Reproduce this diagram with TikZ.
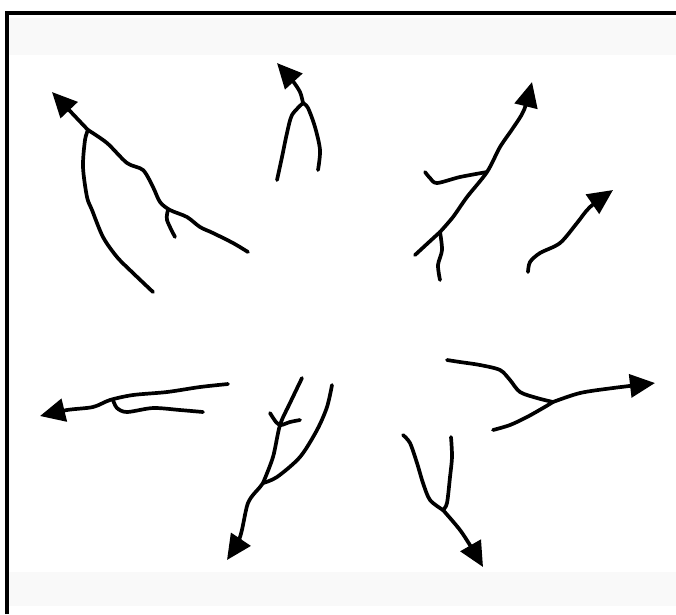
\documentclass[tikz,border=0pt]{standalone}
\usepackage{tikz}
\usetikzlibrary{arrows.meta}
\usepackage{xcolor}
\definecolor{scanband}{RGB}{249,249,249}
\tikzset{
  stroke/.style={line width=1.05pt, line cap=round, line join=round},
  arrowstroke/.style={stroke, -{Triangle[length=0.25cm,width=0.23cm]}},
}

\begin{document}
\begin{tikzpicture}[x=0.01cm, y=-0.01cm]
  \useasboundingbox (0,0) rectangle (676,614);

  % Scan bands and frame
  \fill[scanband] (9,18) rectangle (676,55);
  \fill[scanband] (9,572) rectangle (676,606);
  \draw[line width=1.2pt] (7,614) -- (7,13) -- (676,13);

  % Top left
  \draw[arrowstroke] plot[smooth] coordinates {(88,130) (70,111) (52,92)};
  \draw[stroke] plot[smooth] coordinates {(88,130) (85,140) (83,167) (87,197) (92,210) (103,237) (117,257) (133,273) (153,292)};
  \draw[stroke] plot[smooth] coordinates {(88,130) (107,143) (127,163) (143,170) (153,187) (160,202) (170,210) (187,217) (200,227) (213,233) (233,243) (248,252)};
  \draw[stroke] plot[smooth] coordinates {(168,210) (167,220) (175,237)};

  % Top
  \draw[arrowstroke] plot[smooth] coordinates {(303,103) (300,92) (292,80) (277,63)};
  \draw[stroke] plot[smooth] coordinates {(303,103) (292,115) (287,133) (282,157) (277,180)};
  \draw[stroke] plot[smooth] coordinates {(303,103) (308,108) (315,127) (320,150) (318,170)};

  % Top right
  \draw[arrowstroke] plot[smooth] coordinates {(440,232) (453,217) (467,197) (487,172) (500,147) (513,128) (524,110) (532,82)};
  \draw[stroke] plot[smooth] coordinates {(487,172) (460,177) (437,183) (430,178) (425,172)};
  \draw[stroke] plot[smooth] coordinates {(440,232) (428,243) (415,255)};
  \draw[stroke] plot[smooth] coordinates {(440,232) (442,250) (438,265) (440,280)};

  % Right, small
  \draw[arrowstroke] plot[smooth] coordinates {(528,272) (530,262) (540,253) (560,243) (577,223) (590,207) (613,190)};

  % Left
  \draw[arrowstroke] plot[smooth] coordinates {(228,384) (200,387) (167,392) (133,395) (110,400) (93,407) (67,410) (40,416)};
  \draw[stroke] plot[smooth] coordinates {(113,400) (117,408) (127,412) (153,408) (180,410) (203,412)};

  % Bottom left
  \draw[arrowstroke] plot[smooth] coordinates {(263,483) (260,487) (248,503) (240,537) (227,560)};
  \draw[stroke] plot[smooth] coordinates {(263,483) (273,457) (280,425) (290,403) (302,378)};
  \draw[stroke] plot[smooth] coordinates {(270,413) (276,422) (281,425) (290,422) (300,420)};
  \draw[stroke] plot[smooth] coordinates {(263,483) (277,477) (300,457) (317,430) (327,407) (332,385)};

  % Right
  \draw[arrowstroke] plot[smooth] coordinates {(553,402) (580,393) (613,388) (655,383)};
  \draw[stroke] plot[smooth] coordinates {(553,402) (537,398) (520,392) (510,380) (500,370) (480,365) (460,362) (447,360)};
  \draw[stroke] plot[smooth] coordinates {(553,402) (543,408) (527,417) (510,425) (493,430)};

  % Bottom right
  \draw[arrowstroke] plot[smooth] coordinates {(443,510) (460,530) (473,550) (483,567)};
  \draw[stroke] plot[smooth] coordinates {(443,510) (430,500) (423,483) (417,463) (410,443) (403,435)};
  \draw[stroke] plot[smooth] coordinates {(443,510) (447,503) (450,477) (452,457) (451,437)};
\end{tikzpicture}
\end{document}
